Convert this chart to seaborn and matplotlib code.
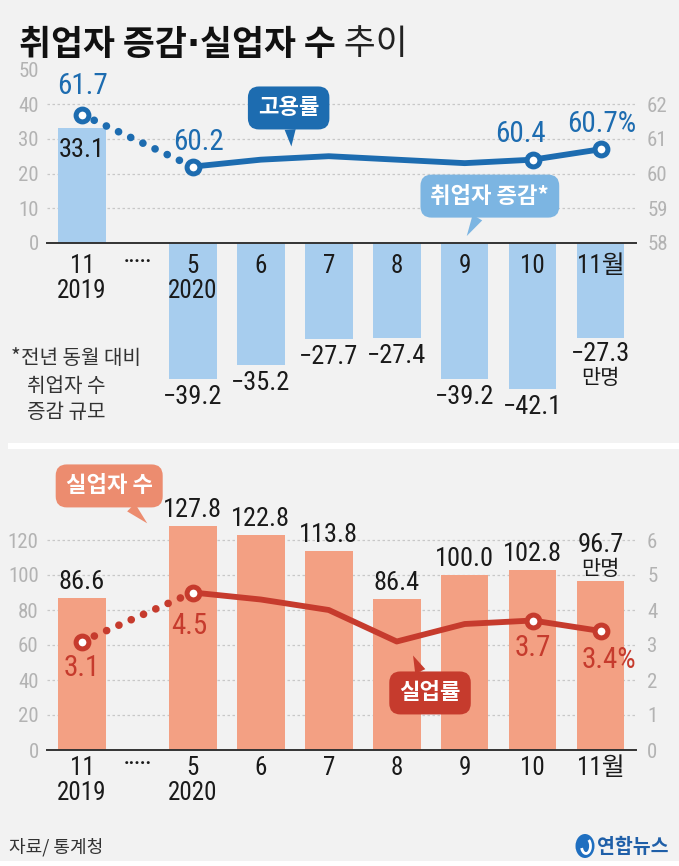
import matplotlib
matplotlib.use('Agg')
import matplotlib.pyplot as plt
import seaborn as sns
from matplotlib.patches import Rectangle, Ellipse, Arc

# ---------------- data ----------------
months = ['11\n2019', '5\n2020', '6', '7', '8', '9', '10', '11월']
emp_change = [33.1, -39.2, -35.2, -27.7, -27.4, -39.2, -42.1, -27.3]
emp_rate = [61.7, 60.2, 60.4, 60.5, 60.4, 60.3, 60.4, 60.7]
unemployed = [86.6, 127.8, 122.8, 113.8, 86.4, 100.0, 102.8, 96.7]
unemp_rate = [3.1, 4.5, 4.3, 4.0, 3.1, 3.6, 3.7, 3.4]
labeled_idx = [0, 1, 6, 7]
emp_rate_labels = ['61.7', '60.2', '60.4', '60.7%']
unemp_rate_labels = ['3.1', '4.5', '3.7', '3.4%']
unit = '만명'
emp_ticks_left = [0, 10, 20, 30, 40, 50]
emp_ticks_right = [58, 59, 60, 61, 62]
unemp_ticks_left = [0, 20, 40, 60, 80, 100, 120]
unemp_ticks_right = [0, 1, 2, 3, 4, 5, 6]

# ---------------- layout / style ----------------
x_pos = [0.0] + [1.63 + i for i in range(len(months) - 1)]
BLUE_BAR = '#a7cdee'
BLUE = '#1d6cb0'
BLUE_BOX2 = '#7cb5e2'
SAL_BAR = '#f3a083'
SAL_BOX = '#ec8c6f'
RED = '#c63b2d'
GRAY = '#b3b3b3'
DARK = '#1a1a1a'
BG = '#f2f2f2'

sns.set_theme(style='white')
NUM = ['Roboto Condensed', 'Noto Sans CJK KR', 'DejaVu Sans']
KR = ['Noto Sans CJK KR', 'DejaVu Sans']
plt.rcParams['font.family'] = NUM
plt.rcParams['axes.unicode_minus'] = True

W, H = 679, 866
PT = 0.72  # points per pixel at dpi 100
fig = plt.figure(figsize=(W / 100, H / 100), dpi=100, facecolor=BG)


def px_axes(left, top, right, bottom):
    return fig.add_axes([left / W, 1 - bottom / H, (right - left) / W, (bottom - top) / H])


def fmt(v):
    return f'{v:.1f}'.replace('-', '\u2212')


def label(ax, x, y, s, dx, dy, **kw):
    ax.annotate(s, (x, y), xytext=(dx * PT, dy * PT), textcoords='offset points',
                ha='center', va='center', **kw)


def callout(ax, trans, text, xy_box, xy_tip, fc):
    ax.annotate(text, xy=xy_tip, xycoords=trans, xytext=xy_box, textcoords=trans,
                ha='center', va='center', fontsize=16, fontweight='bold', color='white',
                family=KR, zorder=10,
                bbox=dict(boxstyle='round,pad=0.45,rounding_size=0.5', fc=fc, ec='none'),
                arrowprops=dict(arrowstyle='wedge,tail_width=0.5,shrink_factor=0.5',
                                fc=fc, ec='none', shrinkA=0, shrinkB=0))


def style_axes(ax, axr, lticks, rticks, pad_x):
    ax.set_axisbelow(False)
    for a in (ax, axr):
        for s in a.spines.values():
            s.set_visible(False)
        a.set_xlabel('')
        a.set_ylabel('')
        a.tick_params(length=0)
    ax.spines['bottom'].set_visible(True)
    ax.spines['bottom'].set_color('#333333')
    ax.spines['bottom'].set_linewidth(1.4)
    ax.spines['bottom'].set_zorder(3)
    ax.set_yticks(lticks)
    ax.set_yticklabels([str(t) for t in lticks], color=GRAY, fontsize=15)
    ax.tick_params(axis='y', pad=6)
    axr.set_yticks(rticks)
    axr.set_yticklabels([str(t) for t in rticks], color=GRAY, fontsize=15)
    axr.tick_params(axis='y', pad=8)
    ax.set_xticks(x_pos)
    ax.set_xticklabels(months, fontsize=18, color=DARK)
    ax.tick_params(axis='x', pad=pad_x)
    for t in ax.get_xticklabels():
        t.set_linespacing(1.05)
    ax.set_xlim(-0.515, 8.15)
    ax.set_facecolor('none')


# ================= TOP PANEL =================
ax1 = px_axes(47, 62.5, 636, 416.5)
ax1b = ax1.twinx()
sns.barplot(x=x_pos, y=emp_change, native_scale=True, width=0.7, color=BLUE_BAR,
            saturation=1, edgecolor='none', linewidth=0, ax=ax1)
for g in emp_ticks_left[1:-1]:
    ax1.axhline(g, color='#c8c8c8', lw=0.9, ls=(0, (2, 2)), zorder=0)
ax1.set_ylim(-50, 52)
ax1.spines['bottom'].set_position(('data', 0))

sns.lineplot(x=x_pos[1:], y=emp_rate[1:], ax=ax1b, color=BLUE, lw=4.2,
             solid_joinstyle='round', solid_capstyle='round')
sns.lineplot(x=x_pos[:2], y=emp_rate[:2], ax=ax1b, color=BLUE, lw=5.5,
             linestyle=(0, (0.01, 1.75)), dash_capstyle='round')
sns.scatterplot(x=[x_pos[i] for i in labeled_idx], y=[emp_rate[i] for i in labeled_idx],
                ax=ax1b, s=85, color='white', edgecolor=BLUE, linewidth=3.6, zorder=5)
style_axes(ax1, ax1b, emp_ticks_left, emp_ticks_right, pad_x=8)
ax1.set_ylim(-50, 52)
ax1b.set_ylim(53, 63.2)

for i, v in enumerate(emp_change):
    if v >= 0:
        dy = -22
    elif i == len(emp_change) - 1:
        dy = -16
    else:
        dy = -18
    label(ax1, x_pos[i], v, fmt(v), 0, dy, fontsize=19, color=DARK)
label(ax1, x_pos[-1], emp_change[-1], unit, 0, -40, fontsize=15, color=DARK, family=KR)

emp_dx = [0, 6, -12, 1]
emp_dy = [29, 25, 26, 25]
for k, i in enumerate(labeled_idx):
    label(ax1b, x_pos[i], emp_rate[i], emp_rate_labels[k], emp_dx[k], emp_dy[k],
          fontsize=21, color=BLUE, zorder=6)

ax1.text((x_pos[0] + x_pos[1]) / 2, -5.5, '·····', ha='center', va='center',
         fontsize=14, color=DARK, fontweight='bold')

callout(ax1b, ax1.transData, '고용률', (3.04, 38.9), (3.08, 27.8), BLUE)
callout(ax1b, ax1.transData, '취업자 증감*', (6.0, 13.5), (5.66, 2.0), BLUE_BOX2)

fig.text(11 / W, 1 - 358 / H, '*', fontsize=15, color='#333333', va='center', family=KR)
fig.text(21 / W, 1 - 358 / H, '전년 동월 대비', fontsize=14.5, color='#333333',
         va='center', family=KR)
fig.text(27 / W, 1 - 386 / H, '취업자 수', fontsize=14.5, color='#333333',
         va='center', family=KR)
fig.text(27 / W, 1 - 413 / H, '증감 규모', fontsize=14.5, color='#333333',
         va='center', family=KR)

# ================= BOTTOM PANEL =================
ax2 = px_axes(47, 470, 636, 750)
ax2b = ax2.twinx()
sns.barplot(x=x_pos, y=unemployed, native_scale=True, width=0.7, color=SAL_BAR,
            saturation=1, edgecolor='none', linewidth=0, ax=ax2)
for g in unemp_ticks_left[1:]:
    ax2.axhline(g, color='#c8c8c8', lw=0.9, ls=(0, (2, 2)), zorder=0)

sns.lineplot(x=x_pos[1:], y=unemp_rate[1:], ax=ax2b, color=RED, lw=4.2,
             solid_joinstyle='round', solid_capstyle='round')
sns.lineplot(x=x_pos[:2], y=unemp_rate[:2], ax=ax2b, color=RED, lw=5.5,
             linestyle=(0, (0.01, 1.75)), dash_capstyle='round')
sns.scatterplot(x=[x_pos[i] for i in labeled_idx], y=[unemp_rate[i] for i in labeled_idx],
                ax=ax2b, s=85, color='white', edgecolor=RED, linewidth=3.6, zorder=5)
style_axes(ax2, ax2b, unemp_ticks_left, unemp_ticks_right, pad_x=4)
ax2.set_ylim(0, 160)
ax2b.set_ylim(0, 8)

for i, v in enumerate(unemployed):
    dy = 16 if i < len(unemployed) - 1 else 36
    label(ax2, x_pos[i], v, fmt(v), 0, dy, fontsize=19, color=DARK)
label(ax2, x_pos[-1], unemployed[-1], unit, 0, 12, fontsize=15, color=DARK, family=KR)

un_dx = [0, -3, 0, 8]
un_dy = [-27, -33, -27, -29]
for k, i in enumerate(labeled_idx):
    label(ax2b, x_pos[i], unemp_rate[i], unemp_rate_labels[k], un_dx[k], un_dy[k],
          fontsize=21, color=RED, zorder=6)

ax2.text((x_pos[0] + x_pos[1]) / 2, -8, '·····', ha='center', va='center',
         fontsize=14, color=DARK, fontweight='bold', clip_on=False)

callout(ax2b, ax2.transData, '실업자 수', (0.40, 150.9), (0.96, 129.5), SAL_BOX)
callout(ax2b, ax2.transData, '실업률', (5.12, 32.6), (4.87, 54.0), RED)

# ================= TITLE / FOOTER =================
t1 = fig.text(19 / W, 1 - 55 / H, '취업자 증감', fontsize=25, fontweight='bold',
              color='#111111', va='baseline', family=KR)
t2 = ax2.annotate('\u00b7', xy=(1, 0), xycoords=t1, va='bottom', ha='left', fontsize=25,
                  fontweight='bold', color='#111111', family=['DejaVu Sans'],
                  annotation_clip=False)
t3 = ax2.annotate('실업자 수', xy=(1, 0), xycoords=t2, va='bottom', ha='left', fontsize=25,
                  fontweight='bold', color='#111111', family=KR, annotation_clip=False)
ax2.annotate(' 추이', xy=(1, 0), xycoords=t3, va='bottom', ha='left', fontsize=25,
             color='#222222', family=KR, annotation_clip=False)

fig.text(9 / W, 1 - 847 / H, '자료/ 통계청', fontsize=13, color='#333333', va='center',
         family=KR)
fig.text(669 / W, 1 - 847 / H, '연합뉴스', fontsize=14, fontweight='bold', color='#1f5fa8',
         va='center', ha='right', family=KR)
fig.patches.append(Ellipse((585 / W, 1 - 846 / H), 19 / W, 24 / H, transform=fig.transFigure,
                           fc='#1f6fc0', ec='none'))
fig.patches.append(Arc((586 / W, 1 - 846 / H), 9 / W, 15 / H, theta1=200, theta2=60,
                       transform=fig.transFigure, color='white', lw=2))

# white separator bands
fig.patches.append(Rectangle((8 / W, 1 - 449 / H), 1, 6 / H, transform=fig.transFigure,
                             fc='white', ec='none'))
fig.patches.append(Rectangle((0, 0), 1, 5 / H, transform=fig.transFigure,
                             fc='white', ec='none'))

fig.savefig('out.png', dpi=100, facecolor=BG)
